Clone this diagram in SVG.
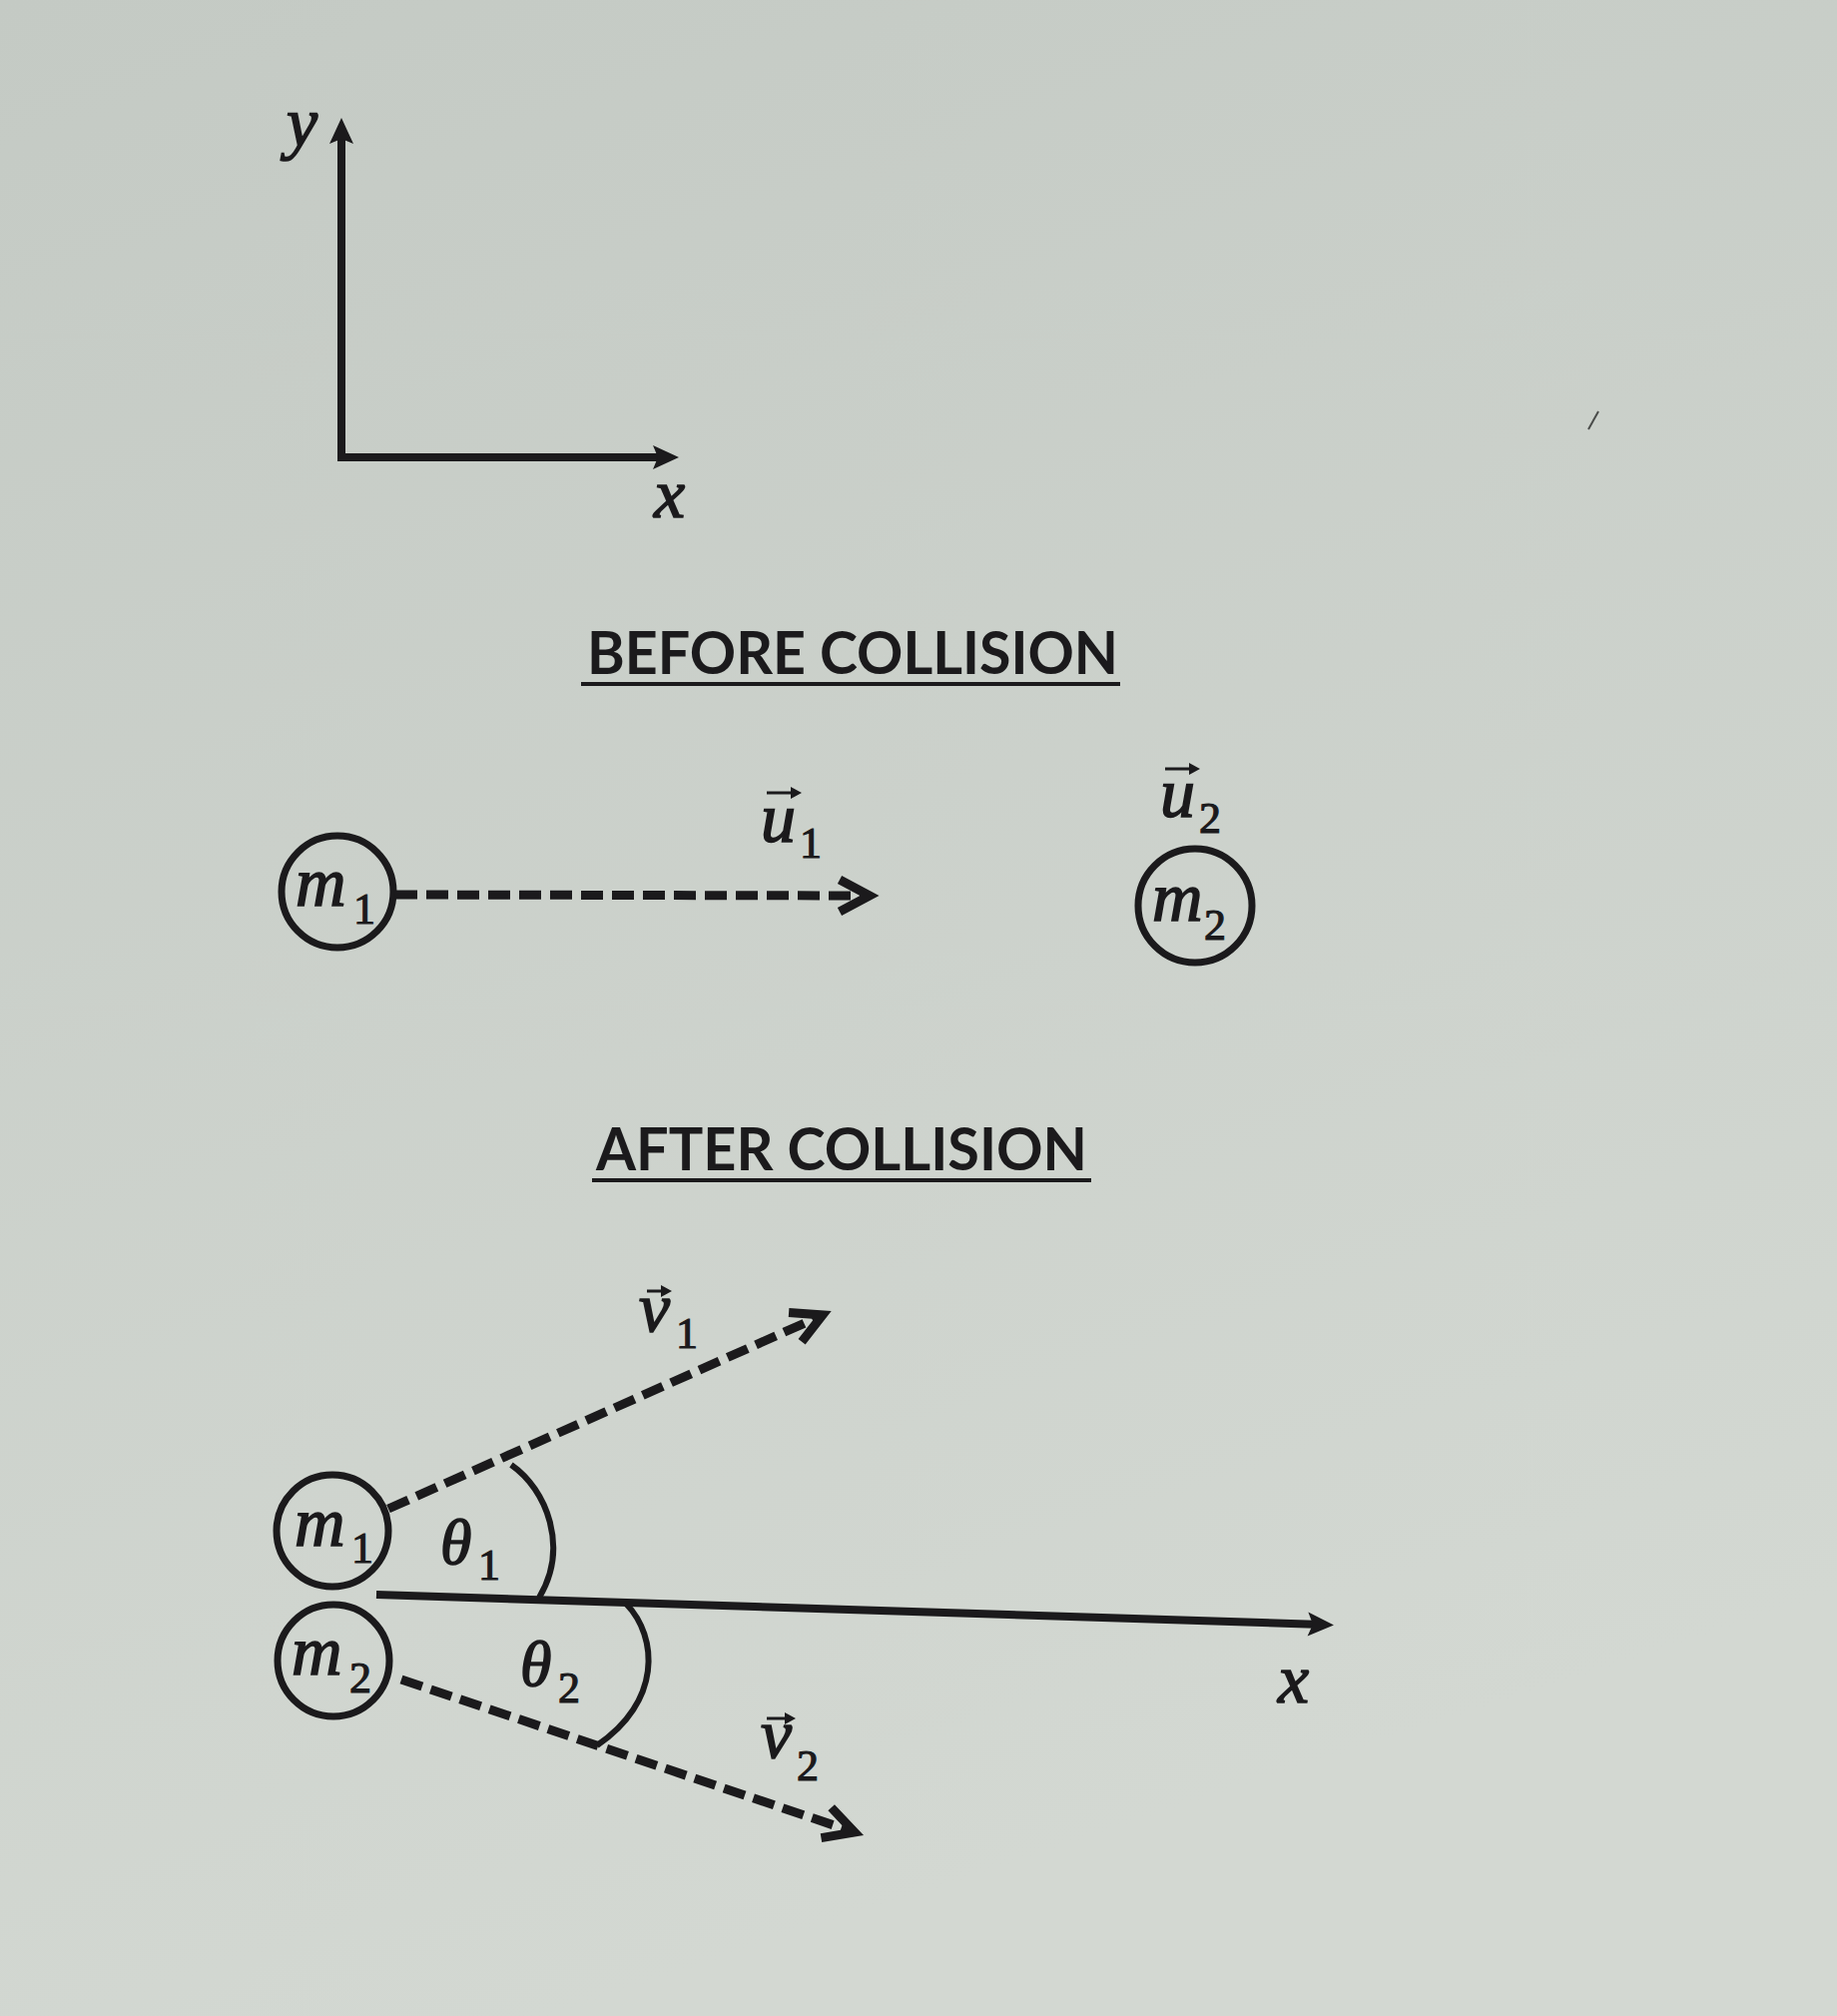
<svg xmlns="http://www.w3.org/2000/svg" width="1840" height="2019" viewBox="0 0 1840 2019">
<defs>
<linearGradient id="paper" x1="0" y1="0" x2="0.3" y2="1">
<stop offset="0" stop-color="#c4cac4"/>
<stop offset="1" stop-color="#d3d8d2"/>
</linearGradient>
<marker id="tri" markerUnits="userSpaceOnUse" orient="auto-start-reverse" markerWidth="60" markerHeight="60" viewBox="-30 -30 60 60" refX="0" refY="0" overflow="visible">
<path d="M-14,-12 L12,0 L-14,12 L-9,0 Z" fill="#1b1a1c"/>
</marker>
<marker id="chev" markerUnits="userSpaceOnUse" orient="auto" markerWidth="80" markerHeight="80" viewBox="-40 -40 80 80" refX="0" refY="0" overflow="visible">
<path d="M-30,-16 L0,0 L-30,16" fill="none" stroke="#1b1a1c" stroke-width="9" stroke-linejoin="miter" stroke-linecap="butt"/>
</marker>
</defs>
<style>
.axis{stroke:#1b1a1c;stroke-width:8;fill:none;stroke-linejoin:miter}
.dash{stroke:#1b1a1c;stroke-width:9;fill:none;stroke-dasharray:22 9}
.ball{stroke:#1b1a1c;stroke-width:7;fill:none}
.arc{stroke:#1b1a1c;stroke-width:6;fill:none;stroke-linecap:butt}
.mi{font-family:"Liberation Serif","DejaVu Serif",serif;font-style:italic;font-size:70px;fill:#1b1a1c;stroke:#1b1a1c;stroke-width:1.6}
.th{font-family:"Liberation Serif","DejaVu Serif",serif;font-style:italic;font-size:64px;fill:#1b1a1c;stroke:#1b1a1c;stroke-width:1.6}
.sub{font-family:"Liberation Serif","DejaVu Serif",serif;font-style:normal;font-size:44px;stroke-width:1.2}
.title{font-family:Lato,"Liberation Sans",sans-serif;font-size:60px;font-weight:bold;fill:#1b1a1c}
.ul{stroke:#1b1a1c;stroke-width:4}
.acc{stroke:#1b1a1c;stroke-width:3;fill:none}
.acch{fill:#1b1a1c}
</style>
<rect x="0" y="0" width="1840" height="2019" fill="url(#paper)"/>
<path d="M1591,430 L1601,412" stroke="#4a4c4a" stroke-width="2" fill="none"/>

<g id="axes">
<polyline class="axis" points="342,130 342,458 668,458" marker-start="url(#tri)" marker-end="url(#tri)"/>
<text class="mi" x="287" y="146">y</text>
<text class="mi" x="655" y="518">x</text>
</g>

<g id="title-before">
<text class="title" x="588" y="675" textLength="532" lengthAdjust="spacingAndGlyphs">BEFORE COLLISION</text>
<line class="ul" x1="582" y1="685" x2="1122" y2="685"/>
</g>

<g id="m1-before">
<circle class="ball" cx="338" cy="893" r="56"/>
<text class="mi" x="296" y="907">m<tspan class="sub" x="354" y="925">1</tspan></text>
</g>

<g id="m2-before">
<circle class="ball" cx="1197" cy="907" r="57"/>
<text class="mi" x="1154" y="922">m<tspan class="sub" x="1206" y="941">2</tspan></text>
</g>

<g id="title-after">
<text class="title" x="597" y="1172" textLength="492" lengthAdjust="spacingAndGlyphs">AFTER COLLISION</text>
<line class="ul" x1="593" y1="1182" x2="1093" y2="1182"/>
</g>

<g id="m1-after">
<circle class="ball" cx="333" cy="1533" r="56"/>
<text class="mi" x="295" y="1548">m<tspan class="sub" x="352" y="1565">1</tspan></text>
</g>

<g id="m2-after">
<circle class="ball" cx="334" cy="1663" r="56"/>
<text class="mi" x="292" y="1677">m<tspan class="sub" x="350" y="1695">2</tspan></text>
</g>

<g id="labels">
<g id="u1-label">
<text class="mi" x="762" y="843">u<tspan class="sub" x="801" y="859">1</tspan></text>
<path class="acc" d="M768,794 L796,794"/><path class="acch" d="M792,788 L803,794 L792,800 Z"/>
</g>
<g id="u2-label">
<text class="mi" x="1162" y="818">u<tspan class="sub" x="1201" y="834">2</tspan></text>
<path class="acc" d="M1167,770 L1195,770"/><path class="acch" d="M1191,764 L1202,770 L1191,776 Z"/>
</g>
<g id="v1-label">
<text class="mi" x="640" y="1333">v<tspan class="sub" x="677" y="1350">1</tspan></text>
<path class="acc" d="M648,1293 L666,1293"/><path class="acch" d="M662,1287 L673,1293 L662,1299 Z"/>
</g>
<g id="v2-label">
<text class="mi" x="762" y="1760">v<tspan class="sub" x="798" y="1783">2</tspan></text>
<path class="acc" d="M768,1721 L790,1721"/><path class="acch" d="M786,1715 L797,1721 L786,1727 Z"/>
</g>
<g id="theta1">
<path class="arc" d="M512,1467 C548,1492 570,1550 540,1600"/>
<text class="th" x="441" y="1566">θ<tspan class="sub" x="479" y="1582">1</tspan></text>
</g>
<g id="theta2">
<path class="arc" d="M627,1606 C660,1640 662,1705 598,1748"/>
<text class="th" x="521" y="1688">θ<tspan class="sub" x="559" y="1705">2</tspan></text>
</g>
<text class="mi" x="1280" y="1705">x</text>
</g>

<g id="connectors">
<line class="dash" x1="396" y1="896" x2="871" y2="897" marker-end="url(#chev)"/>
<line class="axis" x1="377" y1="1597" x2="1324" y2="1627" marker-end="url(#tri)"/>
<line class="dash" x1="389" y1="1511" x2="824" y2="1317" marker-end="url(#chev)"/>
<line class="dash" x1="402" y1="1682" x2="856" y2="1835" marker-end="url(#chev)"/>
</g>
</svg>
